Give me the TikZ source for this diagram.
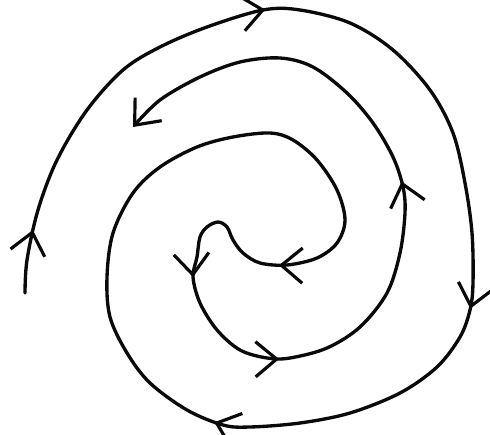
\documentclass[tikz,border=0pt]{standalone}
\usepackage{tikz}
\usetikzlibrary{arrows.meta, decorations.markings}
\definecolor{InkBlack}{RGB}{10, 10, 10}
\tikzset{barb/.tip={Straight Barb[length=12pt, width=20pt, line width=1.8pt]}}

\begin{document}
\begin{tikzpicture}[x=0.02cm, y=-0.02cm, line width=1.9pt, line cap=round, line join=round,
    spiral/.style={InkBlack, postaction={decorate},
      decoration={markings,
        mark=at position 0.024 with {\arrow{barb}},
        mark=at position 0.153 with {\arrow{barb}},
        mark=at position 0.311 with {\arrow{barb}},
        mark=at position 0.426 with {\arrow{barb}},
        mark=at position 0.671 with {\arrow{barb}},
        mark=at position 0.726 with {\arrow{barb}},
        mark=at position 0.775 with {\arrow{barb}},
        mark=at position 0.868 with {\arrow{barb}}}}]
    \useasboundingbox (0,0) rectangle (490,435);

    % outer arm, running inwards
    \coordinate (start) at (25,293);
    \coordinate (turn) at (218,222);
    \coordinate (stop) at (133,127);

    \draw[spiral, -barb] plot[smooth, tension=0.55] coordinates {
      (start) (27,260) (38,210) (57,160) (87,110) (123,70) (160,47) (207,27)
      (263,10) (300,10) (350,23) (393,50) (430,90) (453,133) (465,183)
      (472,233) (473,283) (470,310) (460,337) (437,367) (400,393) (350,413)
      (300,423) (250,427) (223,425) (187,410) (150,383) (127,353) (110,317)
      (107,277) (113,233) (133,193) (160,167) (197,147) (233,137) (270,133)
      (293,140) (317,160) (337,190) (345,220) (337,243) (317,258) (287,265)
      (260,263) (243,253) (233,240) (227,227) (turn)
      % inner arm, running outwards
      (207,227) (200,237) (197,257) (193,277) (200,303) (217,330) (240,350)
      (267,358) (290,358) (327,348) (360,327) (387,293) (400,253) (405,213)
      (403,187) (393,157) (373,123) (347,93) (313,67) (280,58) (240,62)
      (200,77) (160,100) (stop)};
\end{tikzpicture}
\end{document}
